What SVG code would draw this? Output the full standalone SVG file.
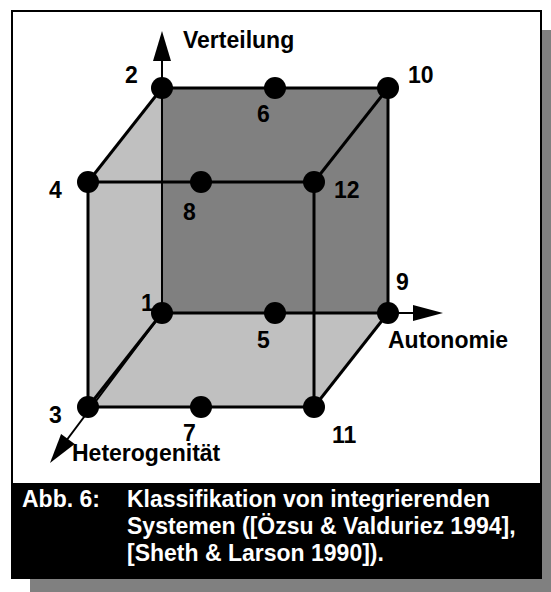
<svg xmlns="http://www.w3.org/2000/svg" width="551" height="592" viewBox="0 0 551 592">
<style>
.lbl{font-family:"Liberation Sans",Arial,sans-serif;font-weight:bold;font-size:23px;fill:#000}
.cap{font-family:"Liberation Sans",Arial,sans-serif;font-weight:bold;font-size:23px;fill:#fff}
.edge{stroke:#000;stroke-width:3;fill:none}
.axis{stroke:#000;stroke-width:2;fill:none}
.dot{fill:#000}
</style>
<!-- shadow -->
<rect x="542" y="30" width="9" height="562" fill="#808080"/>
<rect x="30" y="578" width="521" height="14" fill="#808080"/>
<!-- frame -->
<rect x="12" y="11" width="529" height="567" fill="#fff" stroke="#000" stroke-width="2"/>
<rect x="12" y="483" width="529" height="95" fill="#000"/>
<!-- faces -->
<g id="faces">
<polygon points="162,88 388,88 388,313 162,313" fill="#808080"/>
<polygon points="162,88 88,182 88,407 162,313" fill="#c0c0c0"/>
<polygon points="162,313 388,313 314,407 88,407" fill="#c0c0c0"/>
</g>
<g id="connectors">
<line class="edge" x1="162" y1="88" x2="388" y2="88"/>
<line class="edge" x1="388" y1="88" x2="388" y2="313"/>
<line class="edge" x1="162" y1="313" x2="388" y2="313"/>
<line class="axis" x1="162" y1="88" x2="162" y2="313"/>
<line class="edge" x1="88" y1="182" x2="314" y2="182"/>
<line class="edge" x1="314" y1="182" x2="314" y2="407"/>
<line class="edge" x1="88" y1="407" x2="314" y2="407"/>
<line class="edge" x1="88" y1="182" x2="88" y2="407"/>
<line class="edge" x1="162" y1="88" x2="88" y2="182"/>
<line class="edge" x1="388" y1="88" x2="314" y2="182"/>
<line class="edge" x1="388" y1="313" x2="314" y2="407"/>
<line class="edge" x1="162" y1="313" x2="88" y2="407"/>
<!-- axes -->
<line class="axis" x1="162" y1="88" x2="162" y2="60"/>
<polygon points="162,31 171,61 153,61" fill="#000"/>
<line class="axis" x1="388" y1="313" x2="414" y2="313"/>
<polygon points="443,313 413,305 413,321" fill="#000"/>
<line class="axis" x1="162" y1="313" x2="66" y2="441"/>
<polygon points="50,463 74.7,444.1 61.1,433.9" fill="#000"/>
</g>
<text class="lbl" x="183" y="48">Verteilung</text>
<text class="lbl" x="388" y="348">Autonomie</text>
<text class="lbl" x="72" y="461">Heterogenität</text>
<g id="n1"><circle class="dot" cx="162" cy="313" r="11"/><text class="lbl" x="141" y="311">1</text></g>
<g id="n2"><circle class="dot" cx="162" cy="88" r="11"/><text class="lbl" x="125" y="83">2</text></g>
<g id="n3"><circle class="dot" cx="88" cy="407" r="11"/><text class="lbl" x="49" y="423">3</text></g>
<g id="n4"><circle class="dot" cx="88" cy="182" r="11"/><text class="lbl" x="49" y="198">4</text></g>
<g id="n5"><circle class="dot" cx="275" cy="313" r="11"/><text class="lbl" x="257" y="348">5</text></g>
<g id="n6"><circle class="dot" cx="275" cy="88" r="11"/><text class="lbl" x="257" y="122">6</text></g>
<g id="n7"><circle class="dot" cx="201" cy="407" r="11"/><text class="lbl" x="183" y="441">7</text></g>
<g id="n8"><circle class="dot" cx="201" cy="182" r="11"/><text class="lbl" x="183" y="220">8</text></g>
<g id="n9"><circle class="dot" cx="388" cy="313" r="11"/><text class="lbl" x="396" y="290">9</text></g>
<g id="n10"><circle class="dot" cx="388" cy="88" r="11"/><text class="lbl" x="408" y="83">10</text></g>
<g id="n11"><circle class="dot" cx="314" cy="407" r="11"/><text class="lbl" x="332" y="443">11</text></g>
<g id="n12"><circle class="dot" cx="314" cy="182" r="11"/><text class="lbl" x="334" y="198">12</text></g>
<g id="caption">
<text class="cap" x="22" y="507">Abb. 6:</text>
<text class="cap" x="127" y="507">Klassifikation von integrierenden</text>
<text class="cap" x="127" y="534">Systemen ([Özsu &amp; Valduriez 1994],</text>
<text class="cap" x="127" y="561">[Sheth &amp; Larson 1990]).</text>
</g>
</svg>
